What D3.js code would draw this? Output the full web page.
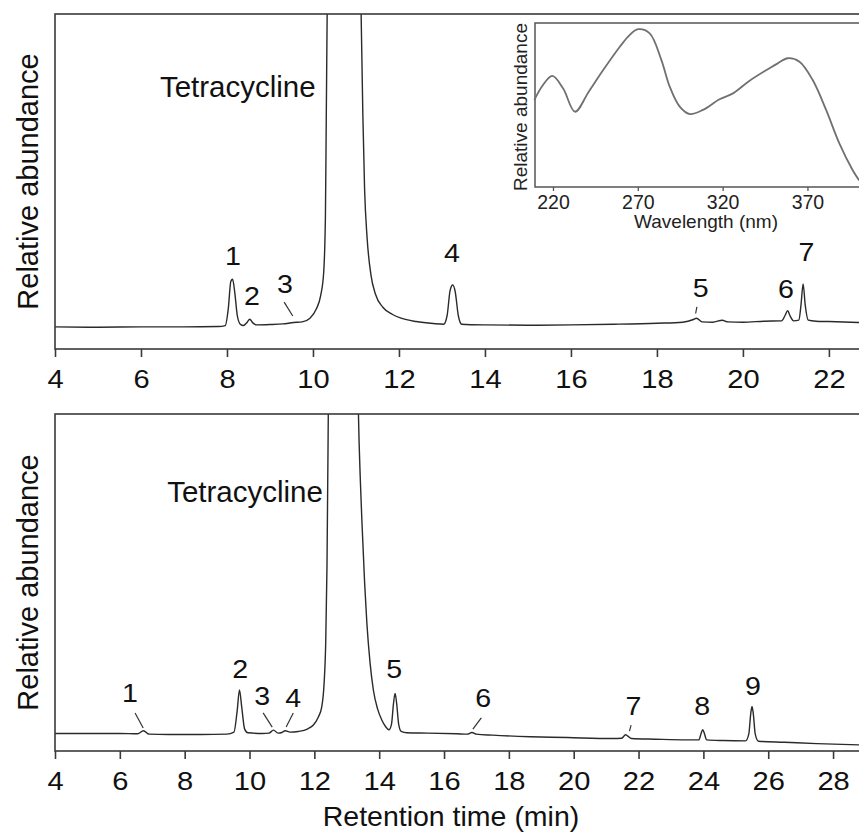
<!DOCTYPE html>
<html>
<head>
<meta charset="utf-8">
<script src="https://cdn.jsdelivr.net/npm/d3@7/dist/d3.min.js"></script>
<style>
  body { margin: 0; background: #fff; }
  svg { display: block; font-family: Arial, "Liberation Sans", sans-serif; }
</style>
</head>
<body>
<div id="chart"></div>
<script>
// two chromatograms (top / bottom) plus the UV spectrum inset of the top one

const W = 859, H = 834;

// top chromatogram: retention time (min) and signal (% of visible height)
const topTime = [4.0, 5.0, 6.0, 7.0, 7.8, 7.96, 8.03, 8.09, 8.13, 8.18, 8.24, 8.31, 8.38, 8.47, 8.53, 8.60,
  8.70, 9.0, 9.3, 9.55, 9.75, 9.93, 10.08, 10.18, 10.25, 10.29, 10.31, 10.33, 10.72, 11.12, 11.16, 11.20,
  11.26, 11.35, 11.45, 11.63, 11.85, 12.05, 12.4, 12.8, 13.04, 13.12, 13.19, 13.25, 13.31, 13.38, 13.46,
  14.0, 15.0, 16.0, 17.0, 18.0, 18.6, 18.85, 18.92, 19.05, 19.3, 19.52, 19.65, 20.0, 20.5, 20.9, 20.98,
  21.04, 21.10, 21.18, 21.30, 21.35, 21.40, 21.45, 21.52, 21.7, 22.0, 22.7];
const topSignal = [6.6, 6.5, 6.6, 6.6, 6.7, 7.0, 12, 20.2, 20.8, 17, 10, 7.4, 7.0, 8.0, 8.9, 7.8,
  7.2, 7.3, 7.5, 7.9, 8.1, 9.2, 12, 16, 23, 40, 70, 100, 1000, 100, 70, 48,
  33, 22, 16.5, 12.4, 10.3, 9.2, 8.2, 7.6, 7.4, 10, 17.5, 19.1, 17, 10, 7.4,
  7.2, 7.1, 7.2, 7.4, 7.7, 8.0, 8.8, 9.2, 8.1, 8.0, 8.6, 8.1, 8.0, 8.3, 8.4, 10,
  11.4, 9.8, 8.4, 8.6, 13, 19.4, 13, 8.6, 8.3, 8.2, 7.9];

// bottom chromatogram
const bottomTime = [4.0, 5.0, 6.0, 6.55, 6.73, 6.9, 7.5, 8.5, 9.3, 9.52, 9.62, 9.69, 9.76, 9.85, 9.95,
  10.4, 10.6, 10.74, 10.88, 11.0, 11.10, 11.25, 11.5, 11.8, 11.97, 12.12, 12.23, 12.30, 12.35, 12.39,
  12.43, 12.9, 13.36, 13.42, 13.47, 13.55, 13.62, 13.72, 13.82, 13.95, 14.08, 14.2, 14.30, 14.38, 14.44,
  14.49, 14.54, 14.60, 14.68, 14.85, 15.5, 16.4, 16.72, 16.86, 17.0, 17.5, 18.66, 19.8, 21.2, 21.48,
  21.60, 21.66, 21.78, 22.5, 23.5, 23.86, 23.93, 23.98, 24.03, 24.1, 24.6, 25.3, 25.40, 25.46, 25.50,
  25.54, 25.60, 25.7, 26.5, 27.5, 28.9];
const bottomSignal = [5.2, 5.2, 5.2, 5.1, 6.0, 5.0, 4.9, 4.9, 5.0, 5.6, 12, 18.1, 13, 6.5, 5.4,
  5.2, 5.3, 6.2, 5.3, 5.5, 6.0, 5.6, 5.8, 6.6, 7.7, 10, 13.2, 20, 32, 55,
  100, 1000, 100, 80, 67.5, 50, 37.9, 26, 18.1, 12.5, 9.2, 7.2, 6.3, 8, 14,
  17.1, 14, 8, 5.8, 5.4, 5.3, 5.1, 5.0, 5.5, 5.0, 4.7, 4.25, 4.0, 3.7, 3.8,
  4.8, 4.5, 3.7, 3.5, 3.3, 3.3, 5.2, 6.3, 5.2, 3.3, 3.1, 3.0, 5, 11, 13.2,
  11, 5, 2.9, 2.6, 2.2, 1.8];

// inset: UV spectrum of tetracycline
const wavelength = [209, 214, 219.6, 226, 233, 241, 249.6, 259.4, 265, 270.2, 277, 283.9, 288.8, 294.7,
  300.6, 308.4, 318.2, 326.1, 335.9, 347.6, 352.5, 358.4, 365.3, 373.1, 381, 388.8, 396.6, 400.5];
const absorbance = [0.53, 0.62, 0.677, 0.60, 0.459, 0.58, 0.713, 0.855, 0.925, 0.962, 0.937, 0.774, 0.612, 0.49,
  0.445, 0.47, 0.535, 0.571, 0.648, 0.724, 0.754, 0.785, 0.764, 0.652, 0.47, 0.266, 0.104, 0.04];

const topTicks = [4, 6, 8, 10, 12, 14, 16, 18, 20, 22];
const bottomTicks = [4, 6, 8, 10, 12, 14, 16, 18, 20, 22, 24, 26, 28];
const insetTicks = [220, 270, 320, 370];

// peak numbers: label, time, signal level of the label baseline
const topPeakLabels = ["1", "2", "3", "4", "5", "6", "7"];
const topPeakTime = [8.14, 8.58, 9.35, 13.23, 19.02, 21.0, 21.48];
const topPeakLevel = [25.1, 13.1, 16.7, 26.0, 15.5, 15.2, 26.3];
const topLeaders = [[9.33, 14.0, 9.53, 9.85], [18.93, 12.6, 18.90, 10.6]];

const bottomPeakLabels = ["1", "2", "3", "4", "5", "6", "7", "8", "9"];
const bottomPeakTime = [6.31, 9.71, 10.39, 11.35, 14.46, 17.21, 21.84, 23.96, 25.53];
const bottomPeakLevel = [14.6, 21.7, 13.6, 13.1, 21.7, 13.1, 10.7, 10.7, 16.6];
const bottomLeaders = [[6.47, 11.3, 6.72, 6.8], [10.42, 11.3, 10.70, 7.1], [11.35, 11.3, 11.13, 7.1],
  [17.15, 9.8, 16.89, 6.5], [21.77, 7.7, 21.72, 5.9]];

const svg = d3.select("#chart").append("svg")
  .attr("width", W)
  .attr("height", H);

function drawPanel(opt) {
  const x = d3.scaleLinear().domain(opt.xDomain).range([55, W]);
  const y = d3.scaleLinear().domain([0, 100]).range([opt.bottom, opt.top]);
  const g = svg.append("g");

  g.append("clipPath").attr("id", opt.id)
    .append("rect")
    .attr("x", 55).attr("y", opt.top)
    .attr("width", W).attr("height", opt.bottom - opt.top);

  const pts = opt.time.map((t, i) => [t, opt.signal[i]]);
  g.append("path")
    .datum(pts)
    .attr("clip-path", `url(#${opt.id})`)
    .attr("fill", "none")
    .attr("stroke", "#2a2a2a")
    .attr("stroke-width", 1.4)
    .attr("d", d3.line().x(d => x(d[0])).y(d => y(d[1])).curve(d3.curveMonotoneX));

  // frame: right side runs off the picture
  g.append("rect")
    .attr("x", 55).attr("y", opt.top)
    .attr("width", W + 20 - 55).attr("height", opt.bottom - opt.top)
    .attr("fill", "none").attr("stroke", "#3a3a3a").attr("stroke-width", 1.6);

  const ax = g.append("g")
    .attr("transform", `translate(0,${opt.bottom})`)
    .call(d3.axisBottom(x).tickValues(opt.ticks).tickFormat(d3.format("d")).tickSize(8).tickPadding(13));
  ax.select(".domain").remove();
  ax.selectAll("line").attr("stroke", "#3a3a3a").attr("stroke-width", 1.6);
  ax.selectAll("text").attr("font-size", 26).attr("fill", "#111")
    .attr("font-family", "Arial, 'Liberation Sans', sans-serif")
    .attr("transform", "scale(1.12,1)");

  g.append("text")
    .attr("transform", `translate(38,${(opt.top + opt.bottom) / 2}) rotate(-90)`)
    .attr("text-anchor", "middle")
    .attr("font-size", 29).attr("fill", "#111")
    .text("Relative abundance");

  g.append("text")
    .attr("x", x(opt.nameAt[0])).attr("y", y(opt.nameAt[1]))
    .attr("font-size", 29.5).attr("fill", "#111")
    .text("Tetracycline");

  g.selectAll("text.peak")
    .data(opt.labels)
    .enter().append("text")
    .attr("class", "peak")
    .attr("transform", (d, i) => `translate(${x(opt.labelTime[i])},${y(opt.labelLevel[i])}) scale(1.1,1)`)
    .attr("text-anchor", "middle")
    .attr("font-size", 26).attr("fill", "#111")
    .text(d => d);

  g.selectAll("line.leader")
    .data(opt.leaders)
    .enter().append("line")
    .attr("class", "leader")
    .attr("x1", d => x(d[0])).attr("y1", d => y(d[1]))
    .attr("x2", d => x(d[2])).attr("y2", d => y(d[3]))
    .attr("stroke", "#333").attr("stroke-width", 1.2);
}

drawPanel({
  id: "clipTop", top: 14, bottom: 349, xDomain: [4, 22.7], ticks: topTicks,
  time: topTime, signal: topSignal, nameAt: [6.44, 75.2],
  labels: topPeakLabels, labelTime: topPeakTime, labelLevel: topPeakLevel, leaders: topLeaders
});

drawPanel({
  id: "clipBottom", top: 414, bottom: 751, xDomain: [4, 28.8], ticks: bottomTicks,
  time: bottomTime, signal: bottomSignal, nameAt: [7.46, 73.9],
  labels: bottomPeakLabels, labelTime: bottomPeakTime, labelLevel: bottomPeakLevel, leaders: bottomLeaders
});

svg.append("text")
  .attr("x", 451).attr("y", 826)
  .attr("text-anchor", "middle")
  .attr("font-size", 28.5).attr("fill", "#111")
  .text("Retention time (min)");

// inset spectrum
const ix = d3.scaleLinear().domain([209.4, 411]).range([535, 877]);
const iy = d3.scaleLinear().domain([0, 1]).range([187, 23]);
const inset = svg.append("g");

inset.append("rect")
  .attr("x", 535).attr("y", 23).attr("width", 877 - 535).attr("height", 187 - 23)
  .attr("fill", "#fff").attr("stroke", "#555").attr("stroke-width", 1.5);

inset.append("path")
  .datum(wavelength.map((w, i) => [w, absorbance[i]]))
  .attr("fill", "none")
  .attr("stroke", "#707070")
  .attr("stroke-width", 1.8)
  .attr("d", d3.line().x(d => ix(d[0])).y(d => iy(d[1])).curve(d3.curveCatmullRom));

const iax = inset.append("g")
  .attr("transform", "translate(0,187)")
  .call(d3.axisBottom(ix).tickValues(insetTicks).tickSize(4).tickPadding(4));
iax.select(".domain").remove();
iax.selectAll("line").attr("stroke", "#555").attr("stroke-width", 1.3);
iax.selectAll("text").attr("font-size", 19.5).attr("fill", "#222")
  .attr("font-family", "Arial, 'Liberation Sans', sans-serif");

inset.append("text")
  .attr("x", 706).attr("y", 228)
  .attr("text-anchor", "middle")
  .attr("font-size", 19).attr("fill", "#222")
  .text("Wavelength (nm)");

inset.append("text")
  .attr("transform", "translate(527,107) rotate(-90)")
  .attr("text-anchor", "middle")
  .attr("font-size", 19).attr("fill", "#222")
  .text("Relative abundance");
</script>
</body>
</html>
